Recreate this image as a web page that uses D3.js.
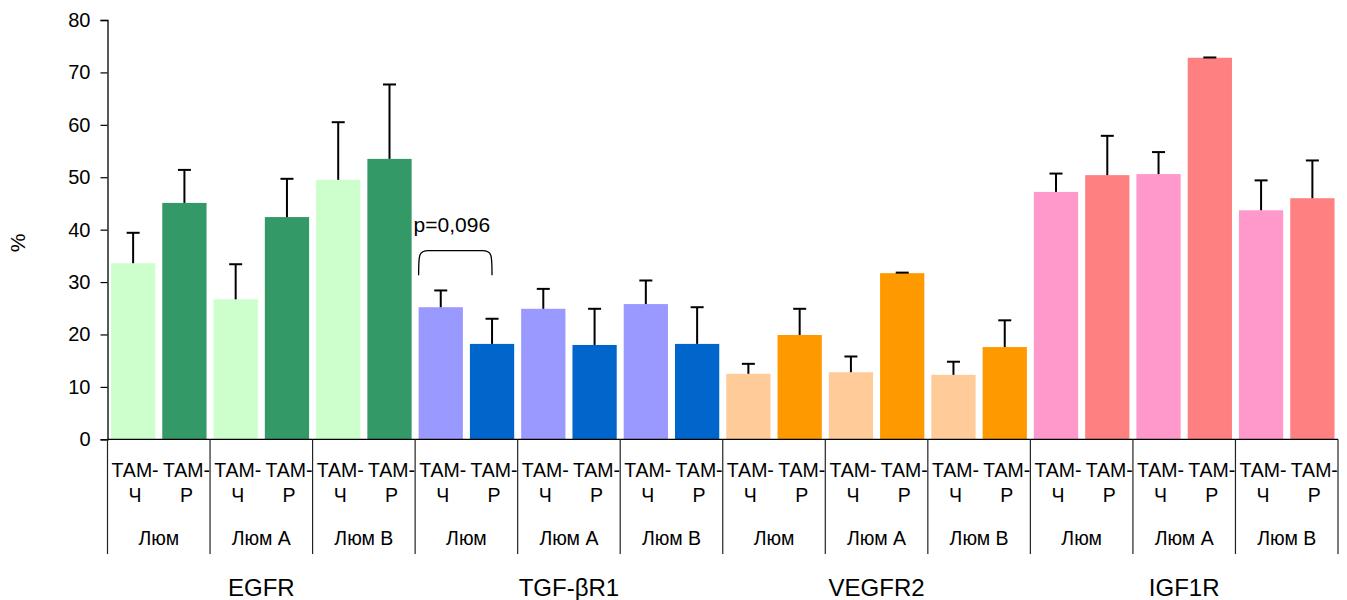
<!DOCTYPE html>
<meta charset="utf-8">
<html>
  <head>
    <title>Экспрессия рецепторов</title>
    <script src="https://d3js.org/d3.v7.min.js"></script>
    <style>
      body { margin: 0; background: #fff; }
      text { font-family: "Liberation Sans", Arial, sans-serif; fill: #000; }
    </style>
  </head>
  <body>
    <svg id="chart" width="1347" height="600"></svg>
    <script>
      // данные
      const genes = ["EGFR", "TGF-βR1", "VEGFR2", "IGF1R"];
      const subtypes = ["Люм", "Люм А", "Люм В"];
      const treatments = ["ТАМ-Ч", "ТАМ-Р"];
      const yTicks = [0, 10, 20, 30, 40, 50, 60, 70, 80];

      // средние, по генам: [Люм Ч, Люм Р, Люм А Ч, Люм А Р, Люм В Ч, Люм В Р]
      const egfrMean   = [33.6, 45.1, 26.7, 42.4, 49.5, 53.5];
      const tgfMean    = [25.2, 18.2, 24.9, 18.0, 25.8, 18.2];
      const vegfrMean  = [12.5, 19.9, 12.8, 31.7, 12.3, 17.6];
      const igf1rMean  = [47.2, 50.4, 50.6, 72.8, 43.7, 46.0];

      const egfrErr  = [5.8, 6.3, 6.7, 7.3, 11.0, 14.2];
      const tgfErr   = [3.2, 4.8, 3.8, 6.9, 4.5, 7.0];
      const vegfrErr = [1.9, 5.0, 3.0, 0.1, 2.5, 5.1];
      const igf1rErr = [3.5, 7.5, 4.2, 0.05, 5.7, 7.2];

      const geneColors = [
        ["#ccffcc", "#339966"],
        ["#9999ff", "#0066cc"],
        ["#ffcc99", "#ff9900"],
        ["#ff99cc", "#ff8080"]
      ];

      const means = [egfrMean, tgfMean, vegfrMean, igf1rMean];
      const errs = [egfrErr, tgfErr, vegfrErr, igf1rErr];

      // таблица столбцов
      const rows = [];
      genes.forEach((g, gi) => {
        subtypes.forEach((s, si) => {
          treatments.forEach((t, ti) => {
            rows.push({
              gene: g, gi: gi, sub: s, treat: t, ti: ti,
              group: g + "|" + s,
              value: means[gi][si * 2 + ti],
              err: errs[gi][si * 2 + ti]
            });
          });
        });
      });
      const groups = Array.from(new Set(rows.map(d => d.group)));

      const svg = d3.select("#chart");
      const plotLeft = 107.5, plotRight = 1338, plotTop = 20, plotBottom = 439.3;

      const y = d3.scaleLinear().domain([0, 80]).range([plotBottom, plotTop]);
      const xGroup = d3.scaleBand().domain(groups).range([plotLeft, plotRight]).padding(0);
      const xBar = d3.scaleBand().domain(treatments)
                     .range([0, xGroup.bandwidth()])
                     .paddingInner(0.137).paddingOuter(0.068);

      // ось Y
      const yAxis = d3.axisLeft(y).tickValues(yTicks).tickSize(7).tickPadding(10);
      const ya = svg.append("g").attr("transform", `translate(${plotLeft},0)`).call(yAxis);
      ya.select(".domain").attr("stroke", "#000").attr("stroke-width", 1.3);
      ya.selectAll(".tick line").attr("stroke", "#000").attr("stroke-width", 1.2);
      ya.selectAll(".tick text").attr("font-size", 20).attr("font-family", "Liberation Sans, Arial, sans-serif");

      svg.append("text")
         .attr("transform", `translate(19,243) rotate(-90)`)
         .attr("text-anchor", "middle")
         .attr("dominant-baseline", "middle")
         .attr("font-size", 21)
         .text("%");

      // столбцы
      svg.append("g").selectAll("rect")
         .data(rows)
         .enter()
         .append("rect")
           .attr("x", d => xGroup(d.group) + xBar(d.treat))
           .attr("y", d => y(d.value))
           .attr("width", xBar.bandwidth())
           .attr("height", d => y(0) - y(d.value))
           .attr("fill", d => geneColors[d.gi][d.ti]);

      // планки погрешностей (только вверх)
      const eb = svg.append("g").attr("stroke", "#000").attr("stroke-width", 2);
      rows.forEach(d => {
        const cx = xGroup(d.group) + xBar(d.treat) + xBar.bandwidth() / 2;
        eb.append("line").attr("x1", cx).attr("x2", cx)
          .attr("y1", y(d.value)).attr("y2", y(d.value + d.err));
        eb.append("line").attr("x1", cx - 6.5).attr("x2", cx + 6.5)
          .attr("y1", y(d.value + d.err)).attr("y2", y(d.value + d.err));
      });

      // ось X и разделители
      svg.append("line")
         .attr("x1", plotLeft).attr("x2", plotRight)
         .attr("y1", plotBottom).attr("y2", plotBottom)
         .attr("stroke", "#000").attr("stroke-width", 1.3);

      const bounds = groups.map(g => xGroup(g)).concat([plotRight]);
      svg.append("g").selectAll("line")
         .data(bounds)
         .enter()
         .append("line")
           .attr("x1", d => d).attr("x2", d => d)
           .attr("y1", plotBottom).attr("y2", 554)
           .attr("stroke", "#222").attr("stroke-width", 1.2);

      // подписи категорий
      const lab = svg.append("g").attr("text-anchor", "middle").attr("font-size", 19.5);
      rows.forEach(d => {
        const cx = xGroup(d.group) + xBar(d.treat) + xBar.bandwidth() / 2;
        const parts = d.treat.split("-");
        lab.append("text").attr("x", cx + 2).attr("y", 477).text(parts[0] + "-");
        lab.append("text").attr("x", cx + 2).attr("y", 502).text(parts[1]);
      });
      groups.forEach(g => {
        lab.append("text")
           .attr("x", xGroup(g) + xGroup.bandwidth() / 2)
           .attr("y", 545)
           .text(g.split("|")[1]);
      });
      genes.forEach(g => {
        const gs = groups.filter(k => k.startsWith(g + "|"));
        const x0 = xGroup(gs[0]);
        const x1 = xGroup(gs[gs.length - 1]) + xGroup.bandwidth();
        svg.append("text")
           .attr("x", (x0 + x1) / 2)
           .attr("y", 596)
           .attr("text-anchor", "middle")
           .attr("font-size", 24)
           .text(g);
      });

      // скобка значимости
      const r7 = rows[6], r8 = rows[7];
      const bx0 = xGroup(r7.group) + xBar(r7.treat);
      const bx1 = xGroup(r8.group) + xBar(r8.treat) + xBar.bandwidth() / 2;
      const byTop = y(36.0), byEnd = y(31.3);
      svg.append("path")
         .attr("d", `M${bx0},${byEnd} C${bx0},${byTop + 4} ${bx0},${byTop} ${bx0 + 10},${byTop}
                     L${bx1 - 10},${byTop} C${bx1},${byTop} ${bx1},${byTop + 4} ${bx1},${byEnd}`)
         .attr("fill", "none").attr("stroke", "#000").attr("stroke-width", 1.3);
      svg.append("text")
         .attr("x", bx0 - 5)
         .attr("y", y(39.5))
         .attr("font-size", 21)
         .text("p=0,096");
    </script>
  </body>
</html>
